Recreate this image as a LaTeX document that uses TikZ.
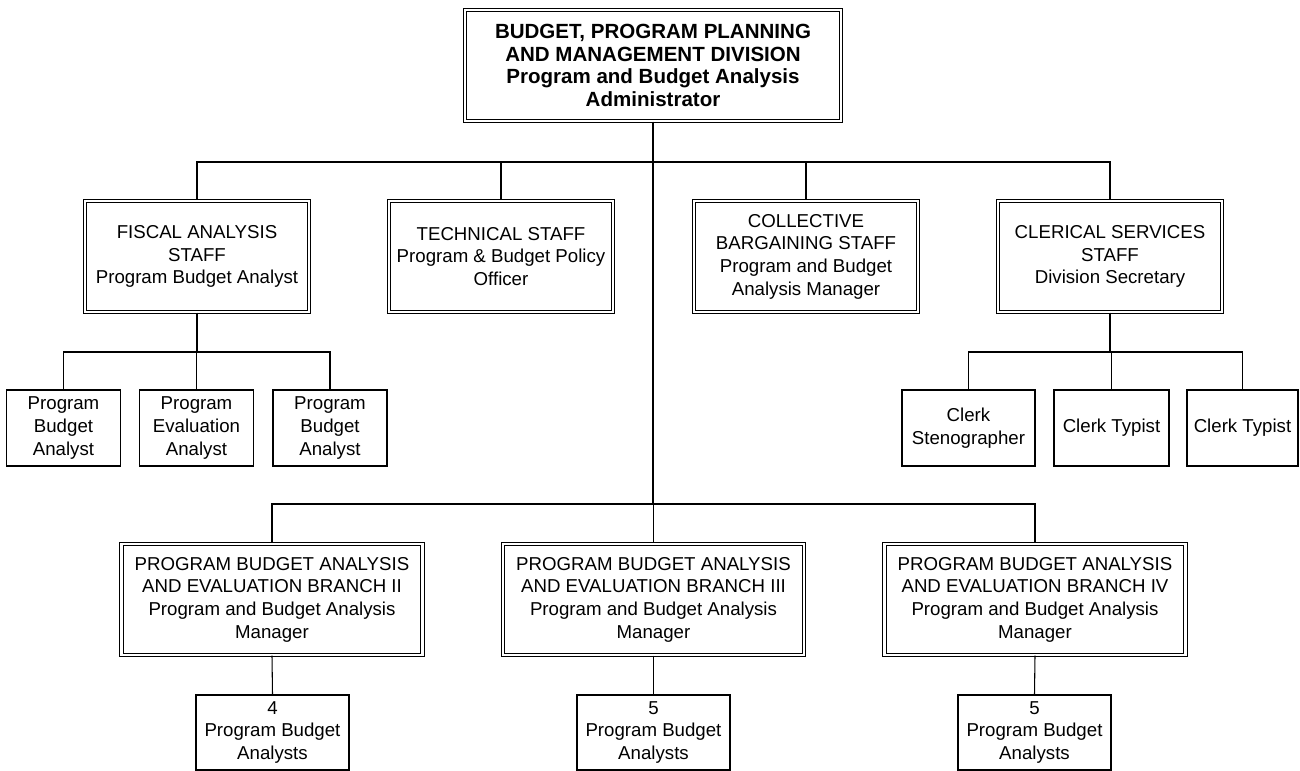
\documentclass[tikz,border=0pt]{standalone}
\usepackage{fontspec}
\setmainfont{Liberation Sans}
\usetikzlibrary{positioning}
\tikzset{
  oc text/.style={font=\fontsize{14}{17}\selectfont, text=black},
  oc head/.style={draw, double, line width=0.9pt, double distance=1.8pt, inner sep=0pt,
    align=center, font=\fontsize{15.4}{17}\selectfont\bfseries,
    minimum width=282pt, minimum height=83.25pt},
  oc staff/.style={draw, double, line width=0.9pt, double distance=1.8pt, inner sep=0pt,
    align=center, minimum width=168pt, minimum height=83.25pt},
  oc branch/.style={draw, double, line width=0.9pt, double distance=1.8pt, inner sep=0pt,
    align=center, minimum width=225.75pt, minimum height=83.25pt},
  oc post/.style={draw, line width=0.9pt, inner sep=0pt, align=center,
    minimum width=85.5pt, minimum height=57pt},
  oc team/.style={draw, line width=0.9pt, inner sep=0pt, align=center,
    minimum width=114.75pt, minimum height=56.25pt},
  oc link/.style={line width=0.8pt}
}

\begin{document}
\begin{tikzpicture}[oc text, x=0.75pt, y=-0.75pt]
  \useasboundingbox (0,0) rectangle (1300,771);
  % division head
  \node[oc head] (head) at (653,65.5)
    {BUDGET, PROGRAM PLANNING\\AND MANAGEMENT DIVISION\\Program and Budget Analysis\\Administrator};
  % staff row
  \node[oc staff] (fiscal) at (197,256.5) {FISCAL ANALYSIS\\STAFF\\Program Budget Analyst};
  \node[oc staff] (tech) at (501,256.5) {TECHNICAL STAFF\\Program \& Budget Policy\\Officer};
  \node[oc staff] (collect) at (806,256.5) {COLLECTIVE\\BARGAINING STAFF\\Program and Budget\\Analysis Manager};
  \node[oc staff] (clerical) at (1110,256.5) {CLERICAL SERVICES\\STAFF\\Division Secretary};
  % posts under fiscal and clerical staff
  \node[oc post] (fa1) at (63.5,428) {Program\\Budget\\Analyst};
  \node[oc post] (fa2) at (196.5,428) {Program\\Evaluation\\Analyst};
  \node[oc post] (fa3) at (330,428) {Program\\Budget\\Analyst};
  \node[oc post, minimum width=99.75pt] (cs1) at (968.5,428) {Clerk\\Stenographer};
  \node[oc post, minimum width=86.25pt] (cs2) at (1111.5,428) {Clerk Typist};
  \node[oc post, minimum width=83.25pt] (cs3) at (1242.5,428) {Clerk Typist};
  % branches
  \node[oc branch] (br2) at (272,599.5) {PROGRAM BUDGET ANALYSIS\\AND EVALUATION BRANCH II\\Program and Budget Analysis\\Manager};
  \node[oc branch] (br3) at (653.5,599.5) {PROGRAM BUDGET ANALYSIS\\AND EVALUATION BRANCH III\\Program and Budget Analysis\\Manager};
  \node[oc branch] (br4) at (1035,599.5) {PROGRAM BUDGET ANALYSIS\\AND EVALUATION BRANCH IV\\Program and Budget Analysis\\Manager};
  \node[oc team] (tm2) at (272.5,732.5) {4\\Program Budget\\Analysts};
  \node[oc team] (tm3) at (653.5,732.5) {5\\Program Budget\\Analysts};
  \node[oc team] (tm4) at (1034.5,732.5) {5\\Program Budget\\Analysts};
  % buses
  \coordinate (staffbus) at (653,162);
  \coordinate (branchbus) at (653,504);
  \coordinate (fiscalbus) at (197,352);
  \coordinate (clerkbus) at (1110,352);
  % connectors
  \draw[oc link] (head.south) -- (branchbus);
  \foreach \n in {fiscal,tech,collect,clerical} {\draw[oc link] (staffbus) -| (\n.north);}
  \foreach \n in {br2,br3,br4} {\draw[oc link] (branchbus) -| (\n.north);}
  \draw[oc link] (fiscal.south) -- (fiscalbus);
  \foreach \n in {fa1,fa2,fa3} {\draw[oc link] (fiscalbus) -| (\n.north);}
  \draw[oc link] (clerical.south) -- (clerkbus);
  \foreach \n in {cs1,cs2,cs3} {\draw[oc link] (clerkbus) -| (\n.north);}
  \draw[oc link] (br2.south) -- (tm2.north);
  \draw[oc link] (br3.south) -- (tm3.north);
  \draw[oc link] (br4.south) -- (tm4.north);
\end{tikzpicture}
\end{document}
